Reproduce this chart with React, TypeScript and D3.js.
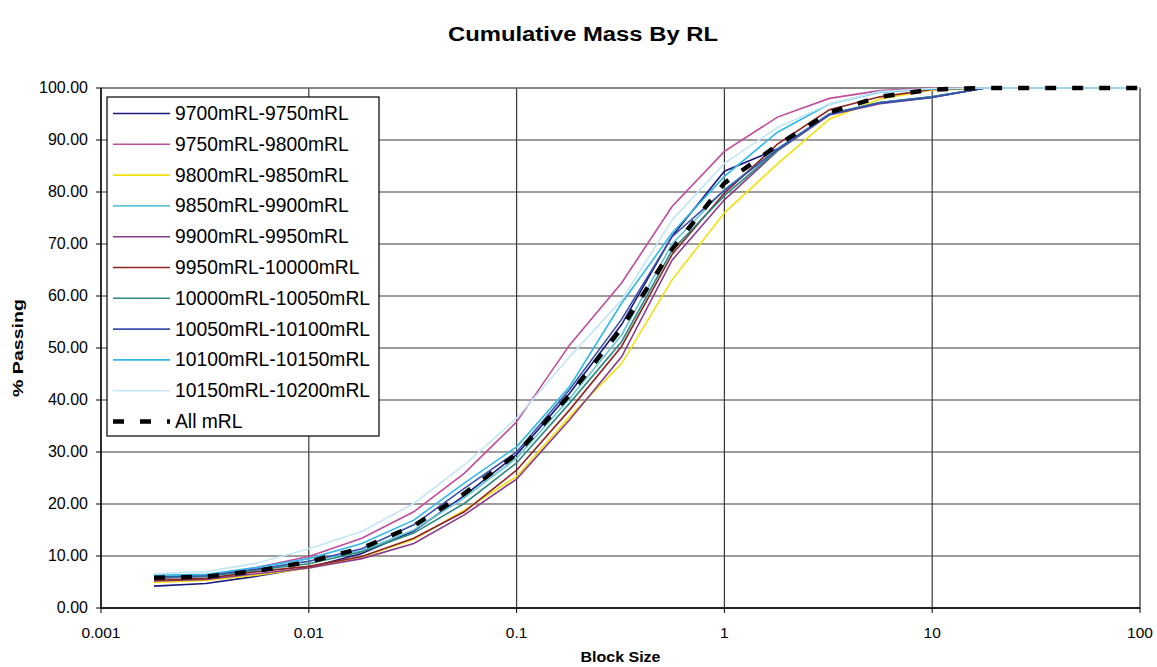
import React from 'react';
import * as d3 from 'd3';

const sizes = [0.0018, 0.0032, 0.0056, 0.01, 0.018, 0.032, 0.056, 0.1, 0.18, 0.32, 0.56, 1, 1.8, 3.2, 5.6, 10, 18, 32, 56, 100];

const seriesNames = [
  '9700mRL-9750mRL', '9750mRL-9800mRL', '9800mRL-9850mRL', '9850mRL-9900mRL', '9900mRL-9950mRL',
  '9950mRL-10000mRL', '10000mRL-10050mRL', '10050mRL-10100mRL', '10100mRL-10150mRL', '10150mRL-10200mRL', 'All mRL',
];

const s9700 = [4.2, 4.7, 6.1, 7.8, 10.5, 14.8, 21.6, 29.5, 41.3, 54.5, 71.5, 84.0, 88.3, 95.0, 97.2, 98.3, 100, 100, 100, 100];
const s9750 = [5.6, 6.2, 7.8, 9.9, 13.4, 18.5, 25.9, 35.8, 50.6, 62.5, 77.2, 87.8, 94.4, 98.0, 99.5, 100, 100, 100, 100, 100];
const s9800 = [4.9, 5.3, 6.3, 7.7, 9.8, 13.2, 18.8, 25.3, 36.8, 47.0, 63.1, 76.0, 85.4, 94.0, 97.9, 99.6, 100, 100, 100, 100];
const s9850 = [6.0, 6.3, 7.3, 9.0, 11.0, 15.0, 21.2, 28.8, 40.3, 52.5, 70.0, 80.5, 88.3, 95.0, 97.2, 98.3, 100, 100, 100, 100];
const s9900 = [5.2, 5.5, 6.6, 7.7, 9.5, 12.4, 17.9, 24.8, 36.2, 48.3, 66.9, 78.5, 87.9, 94.8, 97.0, 98.2, 100, 100, 100, 100];
const s9950 = [5.3, 5.7, 7.0, 8.0, 9.9, 13.4, 18.5, 26.5, 38.1, 50.3, 68.0, 79.8, 89.2, 95.8, 98.3, 99.7, 100, 100, 100, 100];
const s10000 = [5.8, 6.0, 7.3, 8.5, 10.8, 14.4, 20.1, 27.9, 39.4, 51.2, 68.8, 79.3, 88.0, 95.0, 97.2, 98.3, 100, 100, 100, 100];
const s10050 = [6.0, 6.2, 7.5, 9.0, 11.4, 16.0, 23.0, 30.0, 42.0, 55.5, 71.4, 80.3, 88.2, 94.9, 97.1, 98.2, 100, 100, 100, 100];
const s10100 = [6.3, 6.5, 7.8, 9.5, 12.4, 16.9, 24.0, 31.0, 42.6, 58.6, 72.1, 83.0, 91.5, 96.9, 99.2, 99.8, 100, 100, 100, 100];
const s10150 = [6.6, 7.0, 8.6, 11.4, 14.7, 20.1, 27.5, 36.5, 48.3, 59.2, 74.6, 85.5, 92.4, 96.9, 99.3, 99.9, 100, 100, 100, 100];
const sAll = [5.8, 6.0, 7.1, 8.9, 11.5, 15.8, 22.0, 29.6, 41.0, 53.8, 69.0, 81.7, 89.0, 95.3, 98.3, 99.7, 100, 100, 100, 100];

const seriesValues = [s9700, s9750, s9800, s9850, s9900, s9950, s10000, s10050, s10100, s10150, sAll];

const colors = ['#1a1a80', '#c04c9c', '#f2e20c', '#62c6d6', '#8b3a8b', '#8e2424', '#2a8a80', '#3a50b0', '#30b8e8', '#c4e6f2', '#000000'];

const xTicks = [0.001, 0.01, 0.1, 1, 10, 100];
const xTickLabels = ['0.001', '0.01', '0.1', '1', '10', '100'];
const yTicks = [0, 10, 20, 30, 40, 50, 60, 70, 80, 90, 100];

export default function App() {
  const W = 1157, H = 667;
  const left = 101, right = 1140, top = 88, bottom = 608;
  const x = d3.scaleLog().domain([0.001, 100]).range([left, right]);
  const y = d3.scaleLinear().domain([0, 100]).range([bottom, top]);
  const line = d3.line<number>().x((_, i) => x(sizes[i])).y(d => y(d));
  const font = 'Liberation Sans, Arial, sans-serif';
  const legX = 107, legY = 97, legW = 272, legH = 339, rowH = 30.8;
  return (
    <svg width={W} height={H} style={{ position: 'absolute', left: 0, top: 0, background: '#fff' }} fontFamily={font}>
      <rect x={0} y={0} width={W} height={H} fill="#fff" />
      <text x={583} y={41} textAnchor="middle" fontSize={20} fontWeight="bold" textLength={270} lengthAdjust="spacingAndGlyphs">Cumulative Mass By RL</text>
      {/* gridlines */}
      {yTicks.map(t => (
        <line key={'gy' + t} x1={left} x2={right} y1={y(t)} y2={y(t)} stroke="#3a3a3a" strokeWidth={1.2} />
      ))}
      {xTicks.map(t => (
        <line key={'gx' + t} x1={x(t)} x2={x(t)} y1={top} y2={bottom} stroke="#3a3a3a" strokeWidth={1.2} />
      ))}
      <rect x={left} y={top} width={right - left} height={bottom - top} fill="none" stroke="#777" strokeWidth={1.2} />
      {/* axes */}
      <line x1={left} x2={left} y1={top} y2={bottom} stroke="#000" strokeWidth={1.3} />
      <line x1={left} x2={right} y1={bottom} y2={bottom} stroke="#000" strokeWidth={1.3} />
      {yTicks.map(t => (
        <g key={'ty' + t}>
          <line x1={left - 5} x2={left} y1={y(t)} y2={y(t)} stroke="#000" />
          <text x={88} y={y(t) + 5} textAnchor="end" fontSize={16}>{t.toFixed(2)}</text>
        </g>
      ))}
      {xTicks.map((t, i) => (
        <g key={'tx' + t}>
          <line x1={x(t)} x2={x(t)} y1={bottom} y2={bottom + 5} stroke="#000" />
          <text x={x(t)} y={638} textAnchor="middle" fontSize={15.5}>{xTickLabels[i]}</text>
        </g>
      ))}
      <text x={(left + right) / 2} y={662} textAnchor="middle" fontSize={14} fontWeight="bold" textLength={80} lengthAdjust="spacingAndGlyphs">Block Size</text>
      <text transform={`translate(23,${(top + bottom) / 2}) rotate(-90)`} textAnchor="middle" fontSize={14} fontWeight="bold" textLength={98} lengthAdjust="spacingAndGlyphs">% Passing</text>
      {/* series */}
      {seriesValues.map((vals, si) => (
        <path key={'s' + si} d={line(vals) || ''} fill="none" stroke={colors[si]}
          strokeWidth={si === 10 ? 4.5 : 1.6}
          strokeDasharray={si === 10 ? '11,16' : undefined} />
      ))}
      {/* legend */}
      <rect x={legX} y={legY} width={legW} height={legH} fill="#fff" stroke="#000" strokeWidth={1.2} />
      {seriesNames.map((n, i) => {
        const cy = legY + 16.5 + i * rowH;
        return (
          <g key={'l' + i}>
            <line x1={113} x2={170} y1={cy} y2={cy} stroke={colors[i]} strokeWidth={i === 10 ? 4.5 : 1.6}
              strokeDasharray={i === 10 ? '11,16' : undefined} />
            <text x={175} y={cy + 6.5} fontSize={19.3}>{n}</text>
          </g>
        );
      })}
    </svg>
  );
}
